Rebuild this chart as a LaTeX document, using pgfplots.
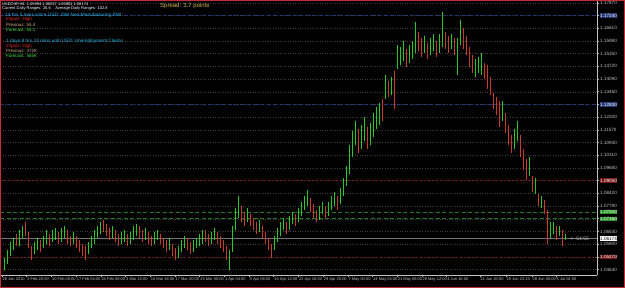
\documentclass[border=0pt]{standalone}
\usepackage{pgfplots}
\pgfplotsset{compat=1.18}
\usepackage{pgfplotstable}
\usepackage{fontspec}
\setmainfont{Liberation Sans}
\definecolor{upc}{RGB}{40,200,40}
\definecolor{dnc}{RGB}{200,60,40}
\definecolor{gridc}{RGB}{62,62,62}
\definecolor{axc}{RGB}{195,195,195}
\definecolor{cyantx}{RGB}{40,180,230}
\definecolor{redtx}{RGB}{235,40,40}
\definecolor{tantx}{RGB}{205,175,135}
\definecolor{greentx}{RGB}{60,230,60}
\definecolor{spreadc}{RGB}{205,185,80}
\definecolor{blvl}{RGB}{35,55,115}
\definecolor{rlvl}{RGB}{115,22,22}
\definecolor{glvl}{RGB}{35,120,35}
\definecolor{gbox}{RGB}{40,150,40}
\definecolor{framec}{RGB}{195,45,55}

\pgfplotstableread{
x lo hi d
4 1.046 1.052 1
7 1.049 1.056 1
10 1.053 1.060 1
13 1.056 1.062 1
16 1.058 1.064 0
19 1.058 1.066 1
22 1.062 1.068 1
25 1.063 1.070 0
28 1.057 1.065 0
31 1.051 1.058 0
34 1.054 1.060 1
37 1.056 1.062 1
40 1.055 1.061 0
43 1.057 1.063 1
46 1.059 1.066 1
49 1.058 1.064 0
52 1.060 1.066 1
55 1.061 1.067 1
58 1.059 1.065 0
61 1.060 1.067 1
64 1.062 1.068 1
67 1.059 1.066 0
70 1.058 1.063 0
73 1.059 1.065 1
76 1.057 1.063 0
79 1.055 1.061 0
82 1.053 1.059 0
85 1.051 1.058 0
88 1.054 1.060 1
91 1.057 1.063 1
94 1.059 1.066 1
97 1.062 1.068 1
100 1.064 1.070 1
103 1.065 1.071 0
106 1.063 1.069 0
109 1.061 1.067 0
112 1.062 1.068 1
115 1.060 1.066 0
118 1.058 1.064 0
121 1.059 1.065 1
124 1.060 1.066 1
127 1.058 1.064 0
130 1.059 1.065 1
133 1.061 1.068 1
136 1.063 1.069 1
139 1.062 1.068 0
142 1.060 1.066 0
145 1.061 1.067 1
148 1.059 1.065 0
151 1.058 1.063 0
154 1.059 1.065 1
157 1.061 1.066 1
160 1.059 1.064 0
163 1.057 1.062 0
166 1.055 1.061 0
169 1.056 1.062 1
172 1.053 1.059 0
175 1.051 1.057 0
178 1.052 1.058 1
181 1.055 1.061 1
184 1.057 1.063 1
187 1.056 1.062 0
190 1.054 1.060 0
193 1.055 1.061 1
196 1.057 1.062 1
199 1.058 1.064 1
202 1.059 1.066 1
205 1.060 1.066 0
208 1.058 1.064 0
211 1.059 1.065 1
214 1.061 1.067 1
217 1.059 1.065 0
220 1.057 1.063 0
223 1.055 1.061 0
226 1.051 1.058 0
229 1.046 1.056 1
232 1.055 1.068 1
235 1.066 1.077 1
238 1.072 1.083 1
241 1.070 1.078 0
244 1.068 1.075 0
247 1.070 1.077 1
250 1.068 1.074 0
253 1.066 1.072 0
256 1.064 1.070 0
259 1.065 1.071 1
262 1.062 1.068 0
265 1.059 1.065 0
268 1.056 1.062 0
271 1.052 1.059 0
274 1.056 1.063 1
277 1.060 1.067 1
280 1.063 1.070 1
283 1.066 1.072 1
286 1.064 1.070 0
289 1.066 1.073 1
292 1.069 1.075 1
295 1.068 1.074 0
298 1.070 1.077 1
301 1.073 1.080 1
304 1.076 1.083 1
307 1.078 1.086 1
310 1.075 1.082 0
313 1.072 1.079 0
316 1.070 1.076 0
319 1.071 1.078 1
322 1.074 1.080 1
325 1.072 1.078 0
328 1.073 1.080 1
331 1.076 1.083 1
334 1.078 1.085 1
337 1.076 1.083 0
340 1.079 1.087 1
343 1.083 1.092 1
346 1.088 1.098 1
349 1.094 1.108 1
352 1.102 1.115 1
355 1.108 1.120 1
358 1.104 1.116 0
361 1.106 1.118 1
364 1.110 1.122 1
367 1.106 1.117 0
370 1.108 1.119 1
373 1.112 1.124 1
376 1.116 1.127 1
379 1.118 1.129 1
382 1.120 1.131 0
385 1.131 1.143 1
388 1.132 1.140 0
391 1.133 1.142 1
394 1.126 1.145 0
397 1.146 1.158 1
400 1.148 1.157 1
403 1.150 1.160 1
406 1.147 1.156 0
409 1.149 1.158 1
412 1.151 1.160 1
415 1.154 1.169 1
418 1.155 1.164 0
421 1.152 1.161 0
424 1.154 1.162 1
427 1.151 1.159 0
430 1.153 1.161 1
433 1.155 1.163 1
436 1.152 1.160 0
439 1.154 1.163 1
442 1.157 1.174 1
445 1.156 1.164 0
448 1.154 1.162 0
451 1.156 1.163 1
454 1.153 1.161 0
457 1.143 1.161 1
460 1.158 1.170 1
463 1.156 1.166 0
466 1.153 1.162 0
469 1.147 1.157 0
472 1.144 1.153 0
475 1.142 1.151 1
478 1.144 1.152 1
481 1.143 1.154 1
484 1.141 1.149 0
487 1.136 1.148 0
490 1.133 1.142 0
493 1.126 1.134 0
496 1.123 1.132 0
499 1.117 1.130 0
502 1.120 1.130 1
505 1.114 1.124 0
508 1.108 1.118 0
511 1.104 1.113 0
514 1.106 1.116 1
517 1.110 1.120 1
520 1.102 1.113 0
523 1.096 1.106 0
526 1.091 1.101 0
529 1.093 1.102 1
532 1.085 1.093 0
535 1.084 1.092 1
538 1.078 1.084 0
541 1.077 1.083 1
544 1.074 1.081 0
547 1.059 1.076 0
550 1.062 1.070 1
553 1.064 1.070 1
556 1.061 1.068 0
559 1.063 1.068 1
562 1.058 1.066 0
565 1.061 1.064 1
}\bars

\begin{document}
\begin{tikzpicture}
\useasboundingbox (0,0) rectangle (625pt,288pt);
\fill[black] (0,0) rectangle (625pt,288pt);
\begin{axis}[
  at={(0pt,13pt)}, anchor=south west, scale only axis,
  width=597pt, height=274pt,
  xmin=0, xmax=597, ymin=1.0437, ymax=1.1796,
  clip=false,
  axis x line*=bottom, axis y line*=right,
  axis line style={axc, line width=0.6pt, -},
  tick style={axc, line width=0.5pt},
  tick align=outside, major tick length=2pt,
  ytick={1.0464,1.0527,1.0590,1.0653,1.0716,1.0779,1.0842,1.0905,1.0968,1.1031,1.1094,1.1157,1.1220,1.1283,1.1346,1.1409,1.1472,1.1535,1.1598,1.1661,1.1724,1.1787},
  yticklabels={1.04640,,1.05900,1.06530,,1.07790,1.08420,,1.09680,1.10310,1.10940,1.11570,1.12200,,1.13460,1.14090,1.14720,1.15350,1.15980,1.16610,,1.17870},
  yticklabel style={font=\fontsize{4.6}{5}\selectfont, text=axc, inner sep=1pt},
  xtick={2,26.7,51.4,76.1,100.8,125.5,150.2,174.9,199.6,224.3,249,273.7,298.4,323.1,347.8,372.5,397.2,421.9,446.6,480,506,532,556},
  xticklabels={26 Jan 2010,2 Feb 20:00,10 Feb 00:00,17 Feb 04:00,24 Feb 08:00,3 Mar 12:00,10 Mar 16:00,17 Mar 20:00,25 Mar 00:00,1 Apr 04:00,8 Apr 08:00,15 Apr 12:00,22 Apr 16:00,29 Apr 20:00,7 May 00:00,14 May 04:00,21 May 08:00,28 May 12:00,4 Jun 16:00,11 Jun 20:00,20 Jun 23:15,28 Jun 00:00,5 Jul 04:00},
  xticklabel style={anchor=north west, font=\fontsize{4}{5}\selectfont, text=axc, inner sep=0.8pt, xshift=-0.3pt},
  ymajorgrids,
  major grid style={gridc, dash pattern=on 0.7pt off 1.8pt, line width=0.4pt},
  unbounded coords=discard,
]
% level lines
\addplot[blvl, line width=0.6pt, dash pattern=on 4pt off 2.5pt] coordinates {(0,1.1724) (597,1.1724)};
\addplot[blvl, line width=0.6pt, dash pattern=on 4pt off 2.5pt] coordinates {(0,1.1283) (597,1.1283)};
\addplot[rlvl, line width=0.6pt, dash pattern=on 2pt off 2pt] coordinates {(0,1.0905) (597,1.0905)};
\addplot[glvl, line width=0.6pt, dash pattern=on 4pt off 2.5pt] coordinates {(0,1.0750) (597,1.0750)};
\addplot[glvl, line width=0.6pt, dash pattern=on 4pt off 2.5pt] coordinates {(0,1.0716) (597,1.0716)};
\addplot[rlvl, line width=0.6pt, dash pattern=on 2pt off 2pt] coordinates {(0,1.0527) (597,1.0527)};
\addplot[axc!60!black, line width=0.6pt] coordinates {(0,1.06174) (597,1.06174)};
% bars
\addplot[draw=none, mark=none, restrict expr to domain={\thisrow{d}}{1:1},
  error bars/.cd, y dir=plus, y explicit, error mark=none,
  error bar style={draw=upc, line width=1pt}]
  table[x=x, y=lo, y error plus expr=\thisrow{hi}-\thisrow{lo}] {\bars};
\addplot[draw=none, mark=none, restrict expr to domain={\thisrow{d}}{0:0},
  error bars/.cd, y dir=plus, y explicit, error mark=none,
  error bar style={draw=dnc, line width=1pt}]
  table[x=x, y=lo, y error plus expr=\thisrow{hi}-\thisrow{lo}] {\bars};
% right-side highlighted labels
\begin{scope}[every node/.style={anchor=west, inner sep=0.6pt, font=\fontsize{4.6}{5}\selectfont, xshift=2.4pt}]
\node[fill=blvl, text=white] at (axis cs:597,1.1724) {1.17240};
\node[fill=blvl, text=white] at (axis cs:597,1.1283) {1.12830};
\node[fill=rlvl, text=white] at (axis cs:597,1.0905) {1.09050};
\node[fill=gbox, text=white] at (axis cs:597,1.0750) {1.07500};
\node[fill=gbox, text=white] at (axis cs:597,1.0716) {1.07160};
\node[fill=white, text=black] at (axis cs:597,1.06174) {1.06174};
\node[fill=rlvl, text=white] at (axis cs:597,1.0527) {1.05270};
\end{scope}
\node[anchor=west, text=axc, font=\fontsize{5}{6}\selectfont, inner sep=0pt] at (axis cs:570,1.06174) {<-{}-54:55};
\end{axis}
% overlay texts
\begin{scope}[every node/.style={anchor=west, inner sep=0pt}]
\node[text=white, font=\fontsize{4}{4.5}\selectfont] at (2pt,284pt) {USDCHF,H4\ \ 1.05994 1.06237 1.05981 1.06174};
\node[text=white, font=\fontsize{4}{4.5}\selectfont] at (2pt,279.5pt) {Current Daily Ranges: 25.6\ \ \ \ Average Daily Ranges: 102.8};
\node[text=cyantx, font=\fontsize{4.8}{5}\selectfont] at (5pt,273pt) {14 hrs 5 mins since USD: ISM Non-Manufacturing PMI};
\node[text=redtx, font=\fontsize{4.5}{5}\selectfont] at (6pt,268.5pt) {Impact: High};
\node[text=tantx, font=\fontsize{4.5}{5}\selectfont] at (6pt,263.5pt) {Previous: 55.4};
\node[text=greentx, font=\fontsize{4.5}{5}\selectfont] at (6pt,258.5pt) {Forecast: 55.1};
\node[text=cyantx, font=\fontsize{4.8}{5}\selectfont] at (6pt,247pt) {1 days 8 hrs 24 mins until USD: Unemployment Claims};
\node[text=redtx, font=\fontsize{4.5}{5}\selectfont] at (6pt,242pt) {Impact: High};
\node[text=tantx, font=\fontsize{4.5}{5}\selectfont] at (6pt,237pt) {Previous: 472K};
\node[text=greentx, font=\fontsize{4.5}{5}\selectfont] at (6pt,232pt) {Forecast: 465K};
\node[text=spreadc, font=\fontsize{6}{7}\selectfont] at (160pt,282.5pt) {Spread: 3.7 points};
\end{scope}
\draw[framec, line width=1.2pt] (0.6pt,0.6pt) rectangle (624.4pt,287.4pt);
\end{tikzpicture}
\end{document}
